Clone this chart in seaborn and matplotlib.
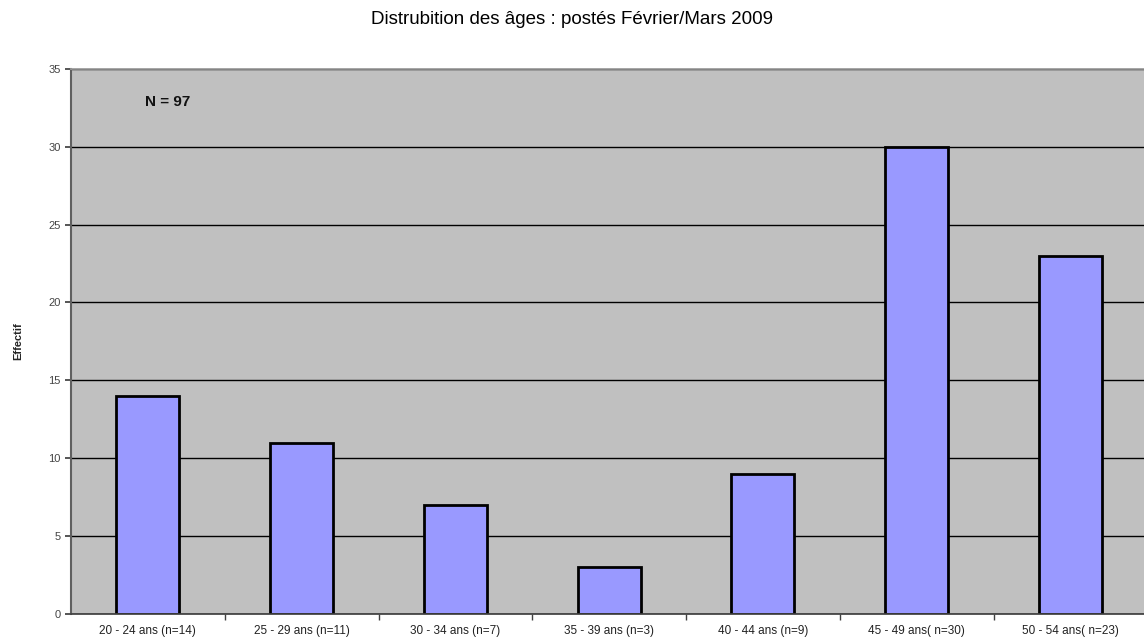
import matplotlib
matplotlib.use("Agg")
import matplotlib.pyplot as plt
import pandas as pd
import seaborn as sns

sns.set_theme(style="white")
plt.rcParams['font.family'] = ['Liberation Sans', 'DejaVu Sans']

# Données
tranches = ["20 - 24 ans (n=14)", "25 - 29 ans (n=11)", "30 - 34 ans (n=7)",
            "35 - 39 ans (n=3)", "40 - 44 ans (n=9)", "45 - 49 ans( n=30)",
            "50 - 54 ans( n=23)"]
effectifs = [14, 11, 7, 3, 9, 30, 23]

df = pd.DataFrame({"tranche": tranches, "effectif": effectifs})

fig = plt.figure(figsize=(11.44, 6.37), dpi=100)
ax = fig.add_axes([0.062, 0.036, 0.941, 0.856])
ax.set_facecolor("#C0C0C0")

sns.barplot(data=df, x="tranche", y="effectif", color="#9999FF",
            edgecolor="black", linewidth=2, width=0.41, saturation=1, ax=ax)

ax.set_ylim(0, 35)
ax.set_xlim(-0.5, len(tranches) - 0.5)
ax.set_yticks(range(0, 36, 5))
ax.yaxis.grid(True, color="black", linewidth=1)
ax.set_axisbelow(True)
ax.spines["right"].set_visible(False)
ax.spines["top"].set_color("#9a9a9a")
ax.spines["left"].set_color("#606060")
ax.spines["left"].set_linewidth(1.5)
ax.spines["bottom"].set_color("#404040")

# graduations entre les catégories, étiquettes au centre
ax.set_xticks([i + 0.5 for i in range(len(tranches) - 1)], minor=True)
ax.tick_params(axis="x", which="major", length=0, labelsize=8.5,
               labelcolor="#222222", pad=8)
ax.tick_params(axis="x", which="minor", length=4, color="#404040",
               bottom=True, direction="out")
ax.tick_params(axis="y", labelsize=8, labelcolor="#444444", length=4,
               color="#404040", left=True, direction="out")
ax.set_xlabel("")
ax.set_ylabel("Effectif", fontsize=8, fontweight="bold", labelpad=18)

ax.text(0.09, 0.94, "N = 97", transform=ax.transAxes, fontsize=11,
        fontweight="bold", ha="center", va="center", color="#111111")

fig.suptitle("Distrubition des âges : postés Février/Mars 2009",
             fontsize=13.5, color="black", y=0.982)

fig.savefig("out.png", dpi=100)
